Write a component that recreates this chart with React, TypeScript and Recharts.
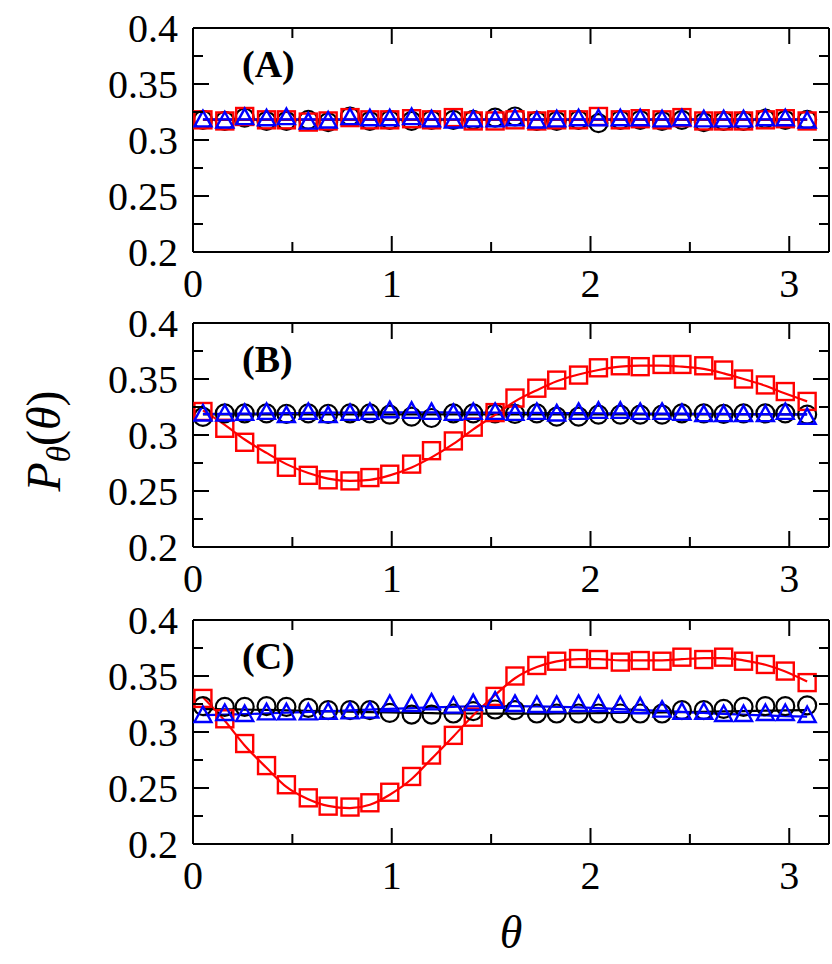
import React from 'react';
import { ComposedChart, Line, XAxis, YAxis, Label } from 'recharts';

// bin centres (theta)
const THETA = [0.05, 0.16, 0.26, 0.37, 0.47, 0.58, 0.68, 0.79, 0.89, 0.99, 1.10, 1.20, 1.31, 1.41, 1.52, 1.62, 1.73, 1.83, 1.94, 2.04, 2.15, 2.25, 2.36, 2.46, 2.57, 2.67, 2.77, 2.88, 2.98, 3.09];

// Panel A
const A_CIRCLES = [0.318, 0.317, 0.320, 0.317, 0.317, 0.318, 0.316, 0.321, 0.317, 0.318, 0.317, 0.318, 0.318, 0.318, 0.320, 0.321, 0.317, 0.317, 0.318, 0.315, 0.318, 0.318, 0.317, 0.318, 0.316, 0.317, 0.317, 0.319, 0.318, 0.318];
const A_SQUARES = [0.318, 0.317, 0.321, 0.318, 0.318, 0.316, 0.317, 0.320, 0.318, 0.318, 0.319, 0.318, 0.320, 0.317, 0.317, 0.318, 0.317, 0.318, 0.318, 0.321, 0.318, 0.319, 0.318, 0.320, 0.317, 0.317, 0.317, 0.318, 0.319, 0.317];
const A_TRIANGLES = [0.318, 0.317, 0.320, 0.319, 0.320, 0.316, 0.317, 0.320, 0.319, 0.319, 0.320, 0.318, 0.317, 0.318, 0.318, 0.319, 0.317, 0.318, 0.319, 0.319, 0.319, 0.319, 0.318, 0.319, 0.318, 0.318, 0.318, 0.319, 0.319, 0.317];
const A_CIRCLES_FIT = [0.318, 0.318, 0.318, 0.318, 0.318, 0.318, 0.318, 0.318, 0.318, 0.318, 0.318, 0.318, 0.318, 0.318, 0.318, 0.318, 0.318, 0.318, 0.318, 0.318, 0.318, 0.318, 0.318, 0.318, 0.318, 0.318, 0.318, 0.318, 0.318, 0.318];
const A_SQUARES_FIT = [0.3182, 0.3182, 0.3182, 0.3182, 0.3182, 0.3182, 0.3182, 0.3182, 0.3182, 0.3182, 0.3182, 0.3182, 0.3182, 0.3182, 0.3182, 0.3182, 0.3182, 0.3182, 0.3182, 0.3182, 0.3182, 0.3182, 0.3182, 0.3182, 0.3182, 0.3182, 0.3182, 0.3182, 0.3182, 0.3182];
const A_TRIANGLES_FIT = [0.3185, 0.3185, 0.3185, 0.3185, 0.3185, 0.3185, 0.3185, 0.3185, 0.3185, 0.3185, 0.3185, 0.3185, 0.3185, 0.3185, 0.3185, 0.3185, 0.3185, 0.3185, 0.3185, 0.3185, 0.3185, 0.3185, 0.3185, 0.3185, 0.3185, 0.3185, 0.3185, 0.3185, 0.3185, 0.3185];

// Panel B
const B_CIRCLES = [0.3161, 0.3193, 0.3193, 0.3193, 0.3188, 0.3193, 0.3188, 0.3193, 0.3193, 0.3182, 0.3164, 0.3152, 0.3193, 0.3193, 0.3193, 0.3188, 0.3193, 0.3164, 0.3164, 0.3182, 0.3182, 0.3182, 0.3182, 0.3193, 0.3193, 0.3188, 0.3193, 0.3193, 0.3193, 0.3182];
const B_SQUARES = [0.321, 0.306, 0.2935, 0.283, 0.2712, 0.264, 0.260, 0.259, 0.262, 0.265, 0.274, 0.286, 0.2947, 0.307, 0.320, 0.333, 0.3418, 0.349, 0.3535, 0.360, 0.3618, 0.361, 0.363, 0.363, 0.3618, 0.358, 0.350, 0.3447, 0.3388, 0.330];
const B_TRIANGLES = [0.3188, 0.3188, 0.3193, 0.3202, 0.3173, 0.3202, 0.3173, 0.3193, 0.3202, 0.3217, 0.3211, 0.3202, 0.3193, 0.3202, 0.3202, 0.3193, 0.3202, 0.3188, 0.3202, 0.3211, 0.3211, 0.3202, 0.3202, 0.3193, 0.3182, 0.3182, 0.3182, 0.3182, 0.3202, 0.3158];
const B_CIRCLES_FIT = [0.3185, 0.3185, 0.3185, 0.3185, 0.3185, 0.3185, 0.3185, 0.3185, 0.3185, 0.3185, 0.3185, 0.3185, 0.3185, 0.3185, 0.3185, 0.3185, 0.3185, 0.3185, 0.3185, 0.3185, 0.3185, 0.3185, 0.3185, 0.3185, 0.3185, 0.3185, 0.3185, 0.3185, 0.3185, 0.3185];
const B_SQUARES_FIT = [0.322, 0.309, 0.296, 0.284, 0.274, 0.266, 0.261, 0.259, 0.260, 0.264, 0.271, 0.280, 0.292, 0.305, 0.318, 0.330, 0.340, 0.348, 0.354, 0.358, 0.361, 0.362, 0.362, 0.361, 0.359, 0.355, 0.350, 0.344, 0.337, 0.330];
const B_TRIANGLES_FIT = [0.3188, 0.3189, 0.3191, 0.3193, 0.3195, 0.3197, 0.3199, 0.3200, 0.3201, 0.3202, 0.3202, 0.3202, 0.3201, 0.3200, 0.3199, 0.3198, 0.3197, 0.3196, 0.3195, 0.3194, 0.3193, 0.3192, 0.3191, 0.3190, 0.3189, 0.3188, 0.3187, 0.3186, 0.3185, 0.3184];

// Panel C
const C_CIRCLES = [0.3231, 0.3225, 0.3225, 0.3231, 0.3225, 0.3216, 0.3195, 0.3195, 0.3195, 0.3171, 0.3156, 0.3156, 0.3165, 0.3186, 0.3201, 0.3195, 0.3165, 0.3165, 0.3165, 0.3165, 0.3165, 0.3165, 0.3165, 0.3195, 0.3195, 0.3207, 0.3225, 0.3231, 0.3231, 0.3237];
const C_SQUARES = [0.330, 0.3118, 0.2897, 0.270, 0.2529, 0.2412, 0.2338, 0.233, 0.2368, 0.2462, 0.2603, 0.2794, 0.297, 0.3132, 0.3318, 0.350, 0.3594, 0.3632, 0.3656, 0.3647, 0.3624, 0.3638, 0.3632, 0.3668, 0.3647, 0.3668, 0.3632, 0.3603, 0.3544, 0.3441];
const C_TRIANGLES = [0.3147, 0.3165, 0.3156, 0.3171, 0.3171, 0.3171, 0.3177, 0.318, 0.3186, 0.3246, 0.3246, 0.326, 0.3231, 0.3254, 0.3275, 0.3246, 0.3237, 0.3237, 0.3246, 0.3246, 0.3237, 0.3225, 0.3195, 0.3177, 0.3177, 0.3156, 0.3156, 0.3165, 0.3165, 0.3147];
const C_CIRCLES_FIT = [0.3205, 0.3203, 0.3200, 0.3197, 0.3193, 0.3189, 0.3185, 0.3181, 0.3177, 0.3174, 0.3171, 0.3168, 0.3166, 0.3165, 0.3164, 0.3164, 0.3164, 0.3165, 0.3166, 0.3168, 0.3170, 0.3172, 0.3175, 0.3178, 0.3181, 0.3184, 0.3187, 0.3190, 0.3193, 0.3196];
const C_SQUARES_FIT = [0.331, 0.310, 0.288, 0.268, 0.251, 0.240, 0.234, 0.232, 0.235, 0.244, 0.258, 0.276, 0.296, 0.315, 0.333, 0.348, 0.358, 0.363, 0.365, 0.365, 0.364, 0.364, 0.364, 0.365, 0.366, 0.366, 0.364, 0.360, 0.354, 0.345];
const C_TRIANGLES_FIT = [0.3150, 0.3155, 0.3160, 0.3166, 0.3172, 0.3179, 0.3186, 0.3193, 0.3200, 0.3207, 0.3214, 0.3220, 0.3225, 0.3229, 0.3231, 0.3231, 0.3229, 0.3225, 0.3220, 0.3213, 0.3205, 0.3197, 0.3188, 0.3179, 0.3170, 0.3162, 0.3155, 0.3148, 0.3142, 0.3137];

const X_TICKS = [0, 0.5, 1, 1.5, 2, 2.5, 3];
const Y_TICKS = [0.2, 0.225, 0.25, 0.275, 0.3, 0.325, 0.35, 0.375, 0.4];
const PANEL_LABELS = ['(A)', '(B)', '(C)'];

const FONT = '"Liberation Serif", "Times New Roman", serif';
const MAJOR = 16;
const MINOR = 10;

const isMajorY = (v: number) => Math.abs(v * 20 - Math.round(v * 20)) < 1e-6;
const isMajorX = (v: number) => Math.abs(v - Math.round(v)) < 1e-6;
const fmt = (v: number) => String(Number(v.toFixed(3)));

const LeftYTick = (p: any) => {
  const v = p.payload.value;
  const major = isMajorY(v);
  return (
    <g>
      <line x1={p.x} x2={p.x + (major ? MAJOR : MINOR)} y1={p.y} y2={p.y} stroke="#000" strokeWidth={2} />
      {major && (
        <text x={p.x - 15} y={p.y} dy="0.34em" textAnchor="end" fontSize={40} fontFamily={FONT} fill="#000">
          {fmt(v)}
        </text>
      )}
    </g>
  );
};

const RightYTick = (p: any) => {
  const v = p.payload.value;
  const major = isMajorY(v);
  return <line x1={p.x} x2={p.x - (major ? MAJOR : MINOR)} y1={p.y} y2={p.y} stroke="#000" strokeWidth={2} />;
};

const BottomXTick = (p: any) => {
  const v = p.payload.value;
  const major = isMajorX(v);
  return (
    <g>
      <line x1={p.x} x2={p.x} y1={p.y} y2={p.y - (major ? MAJOR : MINOR)} stroke="#000" strokeWidth={2} />
      {major && (
        <text x={p.x} y={p.y + 45} textAnchor="middle" fontSize={40} fontFamily={FONT} fill="#000">
          {fmt(v)}
        </text>
      )}
    </g>
  );
};

const TopXTick = (p: any) => {
  const v = p.payload.value;
  const major = isMajorX(v);
  return <line x1={p.x} x2={p.x} y1={p.y} y2={p.y + (major ? MAJOR : MINOR)} stroke="#000" strokeWidth={2} />;
};

const circleDot = (p: any) => (
  <circle key={`c${p.index}`} cx={p.cx} cy={p.cy} r={9} fill="none" stroke="#000" strokeWidth={2.2} />
);
const squareDot = (p: any) => (
  <rect key={`s${p.index}`} x={p.cx - 8.5} y={p.cy - 8.5} width={17} height={17} fill="none" stroke="#ff0000" strokeWidth={2.4} />
);
const triangleDot = (p: any) => (
  <path
    key={`t${p.index}`}
    d={`M${p.cx},${p.cy - 9} L${p.cx + 8.5},${p.cy + 6.5} L${p.cx - 8.5},${p.cy + 6.5} Z`}
    fill="none"
    stroke="#0000ff"
    strokeWidth={2.4}
  />
);

type PanelProps = {
  circles: number[];
  squares: number[];
  triangles: number[];
  circlesFit: number[];
  squaresFit: number[];
  trianglesFit: number[];
  label: string;
  top: number;
  height: number;
  xAxisHeight: number;
  yTitle?: boolean;
  xTitle?: boolean;
};

const Panel = (props: PanelProps) => {
  const data = THETA.map((x, i) => ({
    x,
    c: props.circles[i],
    s: props.squares[i],
    t: props.triangles[i],
    cf: props.circlesFit[i],
    sf: props.squaresFit[i],
    tf: props.trianglesFit[i],
  }));
  return (
    <div style={{ position: 'absolute', left: 0, top: props.top, width: 832, height: props.height }}>
      <ComposedChart width={832} height={props.height} data={data} margin={{ top: 27, right: 2, bottom: 0, left: 0 }}>
        <XAxis
          dataKey="x"
          type="number"
          domain={[0, 3.2]}
          ticks={X_TICKS}
          interval={0}
          height={props.xAxisHeight}
          tickSize={0}
          tickMargin={0}
          tick={BottomXTick}
          axisLine={{ stroke: '#000', strokeWidth: 2 }}
          allowDataOverflow
        >
          {props.xTitle && (
            <Label
              content={(lp: any) => {
                const vb = lp.viewBox;
                return (
                  <text x={vb.x + vb.width / 2} y={vb.y + 104} textAnchor="middle" fontSize={46} fontStyle="italic" fontFamily={FONT} fill="#000">
                    θ
                  </text>
                );
              }}
            />
          )}
        </XAxis>
        <XAxis
          xAxisId="top"
          orientation="top"
          dataKey="x"
          type="number"
          domain={[0, 3.2]}
          ticks={X_TICKS}
          interval={0}
          height={1}
          tickSize={0}
          tickMargin={0}
          tick={TopXTick}
          axisLine={{ stroke: '#000', strokeWidth: 2 }}
          allowDataOverflow
        >
          <Label
            content={(lp: any) => {
              const vb = lp.viewBox;
              return (
                <text x={vb.x + 49} y={vb.y + vb.height + 49} fontSize={38} fontWeight="bold" fontFamily={FONT} fill="#000">
                  {props.label}
                </text>
              );
            }}
          />
        </XAxis>
        <YAxis
          type="number"
          domain={[0.2, 0.4]}
          ticks={Y_TICKS}
          interval={0}
          width={193}
          tickSize={0}
          tickMargin={0}
          tick={LeftYTick}
          axisLine={{ stroke: '#000', strokeWidth: 2 }}
          allowDataOverflow
        >
          {props.yTitle && (
            <Label
              content={(lp: any) => {
                const vb = lp.viewBox;
                const cx = vb.x + 46;
                const cy = vb.y + vb.height / 2 + 6;
                return (
                  <text
                    x={cx}
                    y={cy}
                    dy="0.3em"
                    textAnchor="middle"
                    transform={`rotate(-90, ${cx}, ${cy})`}
                    fontSize={48}
                    fontFamily={FONT}
                    fill="#000"
                  >
                    <tspan fontStyle="italic">P</tspan>
                    <tspan fontStyle="italic" fontSize={33} dy={10}>θ</tspan>
                    <tspan dy={-10}>(</tspan>
                    <tspan fontStyle="italic">θ</tspan>
                    <tspan>)</tspan>
                  </text>
                );
              }}
            />
          )}
        </YAxis>
        <YAxis
          yAxisId="r"
          orientation="right"
          type="number"
          domain={[0.2, 0.4]}
          ticks={Y_TICKS}
          interval={0}
          width={1}
          tickSize={0}
          tickMargin={0}
          tick={RightYTick}
          axisLine={{ stroke: '#000', strokeWidth: 2 }}
          allowDataOverflow
        />
        <Line dataKey="cf" type="monotone" stroke="#000" strokeWidth={2.2} dot={false} activeDot={false} isAnimationActive={false} />
        <Line dataKey="c" stroke="none" dot={circleDot} activeDot={false} isAnimationActive={false} />
        <Line dataKey="sf" type="monotone" stroke="#ff0000" strokeWidth={2.2} dot={false} activeDot={false} isAnimationActive={false} />
        <Line dataKey="s" stroke="none" dot={squareDot} activeDot={false} isAnimationActive={false} />
        <Line dataKey="tf" type="monotone" stroke="#0000ff" strokeWidth={2.2} dot={false} activeDot={false} isAnimationActive={false} />
        <Line dataKey="t" stroke="none" dot={triangleDot} activeDot={false} isAnimationActive={false} />
      </ComposedChart>
    </div>
  );
}

export default function App() {
  return (
    <div style={{ position: 'absolute', left: 0, top: 0, width: 832, height: 964, background: '#fff' }}>
      <Panel
        circles={A_CIRCLES}
        squares={A_SQUARES}
        triangles={A_TRIANGLES}
        circlesFit={A_CIRCLES_FIT}
        squaresFit={A_SQUARES_FIT}
        trianglesFit={A_TRIANGLES_FIT}
        label={PANEL_LABELS[0]}
        top={0}
        height={305}
        xAxisHeight={53}
      />
      <Panel
        circles={B_CIRCLES}
        squares={B_SQUARES}
        triangles={B_TRIANGLES}
        circlesFit={B_CIRCLES_FIT}
        squaresFit={B_SQUARES_FIT}
        trianglesFit={B_TRIANGLES_FIT}
        label={PANEL_LABELS[1]}
        top={295}
        height={305}
        xAxisHeight={53}
        yTitle
      />
      <Panel
        circles={C_CIRCLES}
        squares={C_SQUARES}
        triangles={C_TRIANGLES}
        circlesFit={C_CIRCLES_FIT}
        squaresFit={C_SQUARES_FIT}
        trianglesFit={C_TRIANGLES_FIT}
        label={PANEL_LABELS[2]}
        top={592}
        height={372}
        xAxisHeight={120}
        xTitle
      />
    </div>
  );
}
